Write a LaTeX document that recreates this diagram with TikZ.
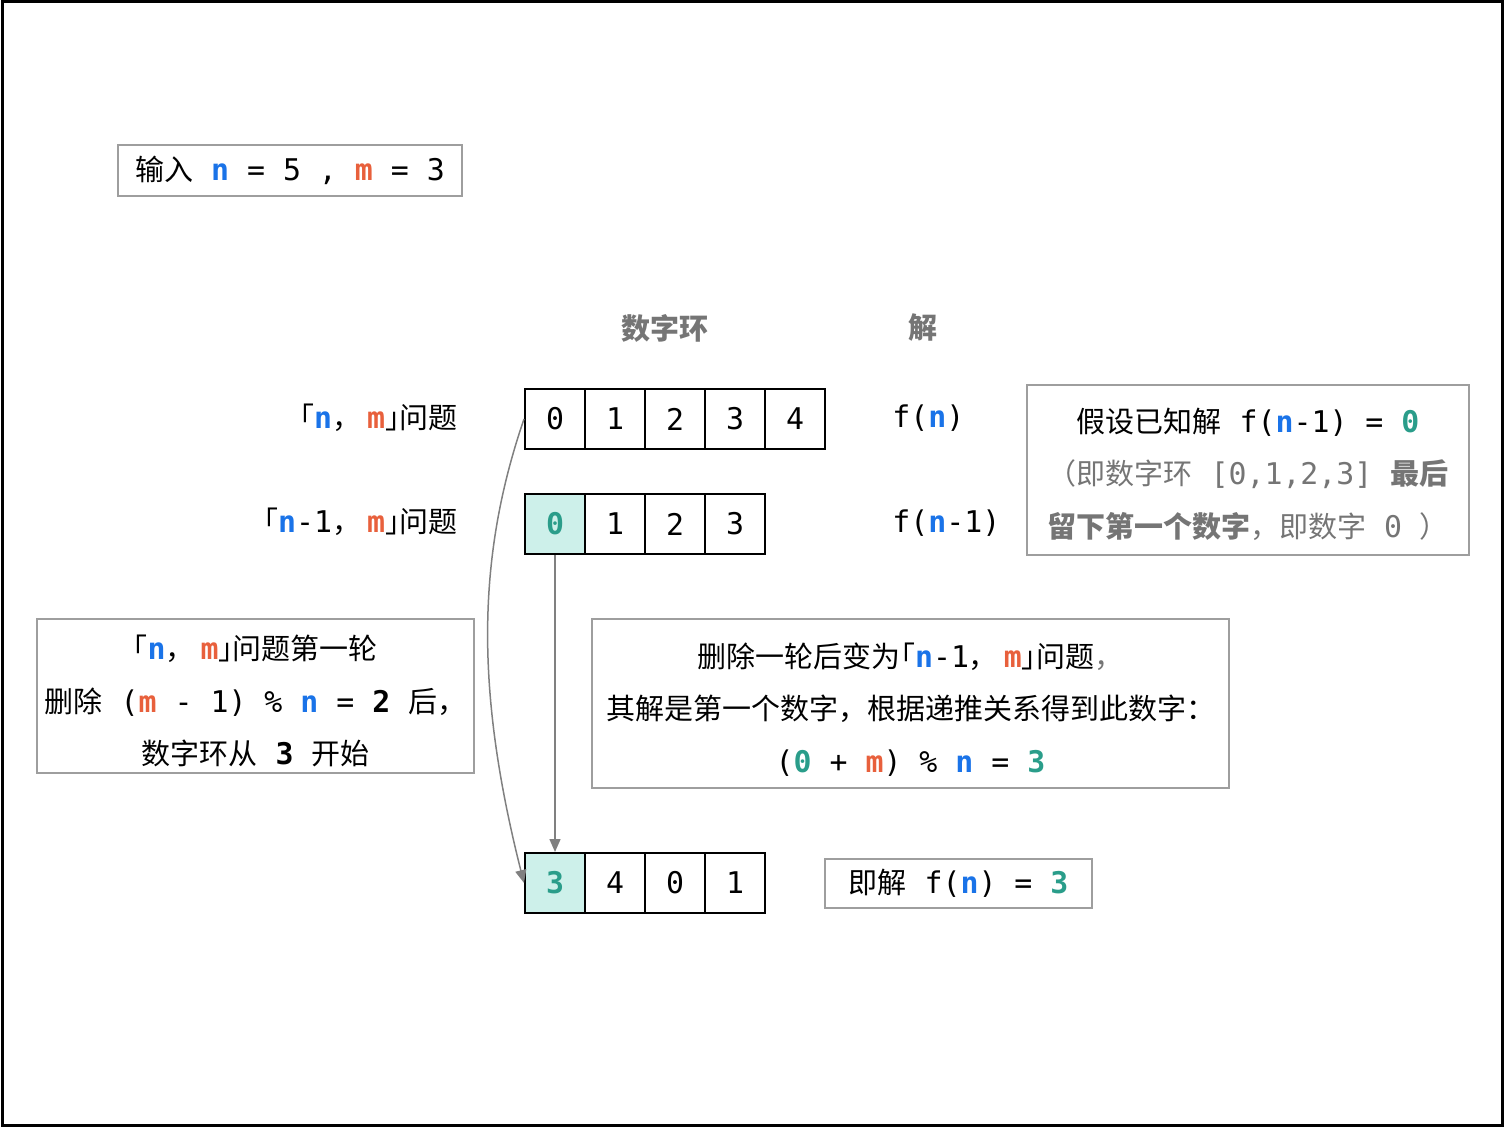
\documentclass[tikz,border=0pt]{standalone}
\usepackage{fontspec}
\usepackage{tikz}
\usetikzlibrary{arrows.meta}
\setmainfont{DejaVu Sans Mono}[Scale=1.03]
\newfontfamily\zh{Noto Sans CJK SC}
\newfontfamily\zhh{Noto Sans CJK SC}[RawFeature=+halt]
\definecolor{nblue}{HTML}{1A73E8}
\definecolor{mred}{HTML}{E8603C}
\definecolor{ansteal}{HTML}{2A9D8A}
\definecolor{cellfill}{HTML}{CDF0EA}
\definecolor{boxgray}{HTML}{9E9E9E}
\definecolor{txtgray}{HTML}{757575}
\newcommand{\vn}{{\bfseries\color{nblue}n}}
\newcommand{\vm}{{\bfseries\color{mred}m}}
\newcommand{\nm}[1]{{\zhh 「}\vn#1{\zh ，}\hspace{3pt}\vm{\zhh 」}}
\begin{document}
\begin{tikzpicture}[x=0.5pt, y=-0.5pt,
    every node/.style={font=\fontsize{14.5}{26.25}\selectfont},
    cell/.style={draw, line width=1pt, minimum width=30pt, minimum height=30pt, inner sep=0pt},
    hit/.style={cell, fill=cellfill, text=ansteal, font=\fontsize{14.5}{26.25}\selectfont\bfseries},
    infobox/.style={draw=boxgray, line width=1pt, inner sep=0pt},
    boxtext/.style={align=center, inner sep=0pt},
    head/.style={text=txtgray, font=\fontsize{14.5}{26.25}\selectfont\zh\bfseries},
    link/.style={draw=gray, line width=0.75pt, -{Triangle[length=6.5pt,width=5.5pt]}}]
    \useasboundingbox (0,0) rectangle (1504,1127);
    \draw[line width=1.5pt] (2,2) rectangle (1502,1125);

    % input
    \node[infobox, align=center, minimum width=172pt, minimum height=25.5pt] (input) at (290,170.5) {{\zh 输入} \vn{} = 5 , \vm{} = 3};

    % headings
    \node[head] (ringhead) at (665,328) {数字环};
    \node[head] (solhead) at (923,328) {解};

    % row labels
    \node[anchor=east, inner sep=0pt] (lab1) at (458,418) {\nm{}{\zh 问题}};
    \node[anchor=east, inner sep=0pt] (lab2) at (458,522) {\nm{-1}{\zh 问题}};

    % number rings
    \foreach \v [count=\i from 0] in {0,1,2,3,4}
        \node[cell] (a\i) at ({555+60*\i},419) {\v};
    \node[hit] (b0) at (555,524) {0};
    \foreach \v [count=\i from 1] in {1,2,3}
        \node[cell] (b\i) at ({555+60*\i},524) {\v};
    \node[hit] (c0) at (555,883) {3};
    \foreach \v [count=\i from 1] in {4,0,1}
        \node[cell] (c\i) at ({555+60*\i},883) {\v};

    % solutions
    \node[anchor=west, inner sep=0pt] (fn) at (892,418) {f(\vn)};
    \node[anchor=west, inner sep=0pt] (fn1) at (892,523) {f(\vn-1)};

    % explanation boxes
    \node[infobox, minimum width=221pt, minimum height=85pt] (known) at (1248,470) {};
    \node[boxtext] (knowntxt) at ([yshift=-2pt]known.center)
        {{\zh 假设已知解} f(\vn-1) = {\bfseries\color{ansteal}0}\\
        {\color{txtgray}{\zh （即数字环} [0,1,2,3] {\zh\bfseries 最后}}\\
        {\color{txtgray}{\zh\bfseries 留下第一个数字}{\zh ，即数字} 0 {\zh ）}}};
    \node[infobox, minimum width=218.5pt, minimum height=77pt] (round) at (255.5,696) {};
    \node[boxtext] (roundtxt) at ([yshift=-2.5pt]round.center)
        {\nm{}{\zh 问题第一轮}\\
        {\zh 删除} (\vm{} - 1) \% \vn{} = {\bfseries 2} {\zh 后，}\\
        {\zh 数字环从} {\bfseries 3} {\zh 开始}};
    \node[infobox, minimum width=318.5pt, minimum height=84.5pt] (next) at (910.5,703.5) {};
    \node[boxtext] (nexttxt) at ([yshift=-3pt]next.center)
        {{\zh 删除一轮后变为}\nm{-1}{\zh 问题}{\zh\color{txtgray}，}\\
        {\zh 其解是第一个数字，根据递推关系得到此数字：}\\
        ({\bfseries\color{ansteal}0} + \vm) \% \vn{} = {\bfseries\color{ansteal}3}};
    \node[infobox, align=center, minimum width=133.5pt, minimum height=24.5pt] (answer) at (958.5,883.5)
        {{\zh 即解} f(\vn) = {\bfseries\color{ansteal}3}};

    % arrows
    \draw[link] (b0.south) -- (c0.north);
    \draw[link] (a0.west) .. controls +(-48,140) and +(-48,-190) .. (c0.west);
\end{tikzpicture}
\end{document}
